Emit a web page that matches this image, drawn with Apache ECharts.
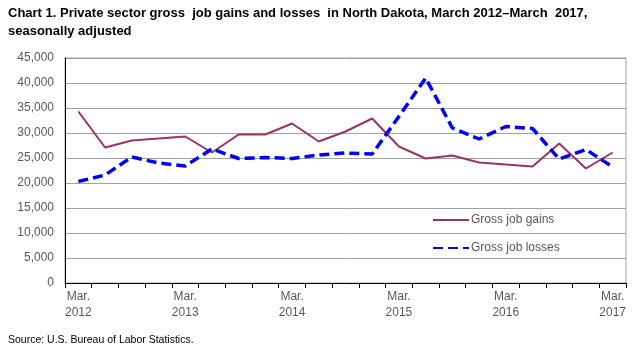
<!DOCTYPE html>
<html>
<head>
<meta charset="utf-8">
<script src="https://cdn.jsdelivr.net/npm/echarts@6/dist/echarts.min.js"></script>
<style>
html,body{margin:0;padding:0;background:#fff;}
#c{width:642px;height:350px;}
</style>
</head>
<body>
<div id="c"></div>
<script>
var categories = [
  "Mar.\n2012","Jun.\n2012","Sep.\n2012","Dec.\n2012",
  "Mar.\n2013","Jun.\n2013","Sep.\n2013","Dec.\n2013",
  "Mar.\n2014","Jun.\n2014","Sep.\n2014","Dec.\n2014",
  "Mar.\n2015","Jun.\n2015","Sep.\n2015","Dec.\n2015",
  "Mar.\n2016","Jun.\n2016","Sep.\n2016","Dec.\n2016",
  "Mar.\n2017"
];
var grossJobGains = [34300,27100,28500,28900,29300,26100,29700,29700,31900,28300,30300,32900,27300,24900,25500,24100,23700,23300,27900,22900,26100];
var grossJobLosses = [20300,21600,25200,24000,23400,26800,24900,25100,24900,25600,26000,25800,33300,41000,31000,28800,31300,30900,24800,26700,23200];
var yTicks = {min: 0, max: 45000, interval: 5000};

var narrow = '"Liberation Sans Narrow", "Arial Narrow", "Liberation Sans", Arial, sans-serif';
var chart = echarts.init(document.getElementById('c'), null, {renderer: 'canvas'});
chart.setOption({
  animation: false,
  backgroundColor: '#fff',
  title: [{
    text: 'Chart 1. Private sector gross  job gains and losses  in North Dakota, March 2012\u2013March  2017,\nseasonally adjusted',
    left: 8, top: 4, padding: 0,
    textStyle: {fontFamily: narrow, fontSize: 13, fontWeight: 'bold', color: '#000', lineHeight: 18}
  }, {
    text: 'Source: U.S. Bureau of Labor Statistics.',
    left: 8, top: 335, padding: 0,
    textStyle: {fontFamily: narrow, fontSize: 10.5, fontWeight: 'normal', color: '#000'}
  }],
  legend: {
    orient: 'vertical',
    left: 432, top: 214, padding: 0,
    itemWidth: 36, itemHeight: 10, itemGap: 16,
    itemStyle: {opacity: 0},
    textStyle: {fontFamily: '"Liberation Sans", Arial, sans-serif', fontSize: 12, color: '#595959', padding: [0,0,0,-3]},
    data: ['Gross job gains', 'Gross job losses']
  },
  grid: {left: 65, right: 16, top: 58, bottom: 67, show: true, borderColor: '#A0A0A0', borderWidth: 1},
  xAxis: {
    type: 'category',
    data: categories,
    boundaryGap: true,
    axisLine: {lineStyle: {color: '#000', width: 1}},
    axisTick: {show: true, interval: 0, length: 5, lineStyle: {color: '#000'}},
    axisLabel: {interval: 3, color: '#595959', fontFamily: '"Liberation Sans", Arial, sans-serif', fontSize: 12, lineHeight: 16, margin: 6}
  },
  yAxis: {
    type: 'value',
    min: yTicks.min, max: yTicks.max, interval: yTicks.interval,
    axisLine: {show: true, lineStyle: {color: '#000', width: 1}},
    axisTick: {show: false},
    splitLine: {lineStyle: {color: '#A0A0A0', width: 1}},
    axisLabel: {
      color: '#595959', fontFamily: '"Liberation Sans", Arial, sans-serif', fontSize: 12, margin: 11,
      formatter: function (v) { return v.toLocaleString('en-US'); }
    }
  },
  series: [{
    name: 'Gross job gains',
    type: 'line',
    data: grossJobGains,
    symbol: 'none',
    itemStyle: {color: '#993366'},
    lineStyle: {color: '#993366', width: 2}
  }, {
    name: 'Gross job losses',
    type: 'line',
    data: grossJobLosses,
    symbol: 'none',
    itemStyle: {color: '#0000FF'},
    lineStyle: {color: '#0000FF', width: 3.5, type: [10, 5]}
  }]
});
</script>
</body>
</html>
